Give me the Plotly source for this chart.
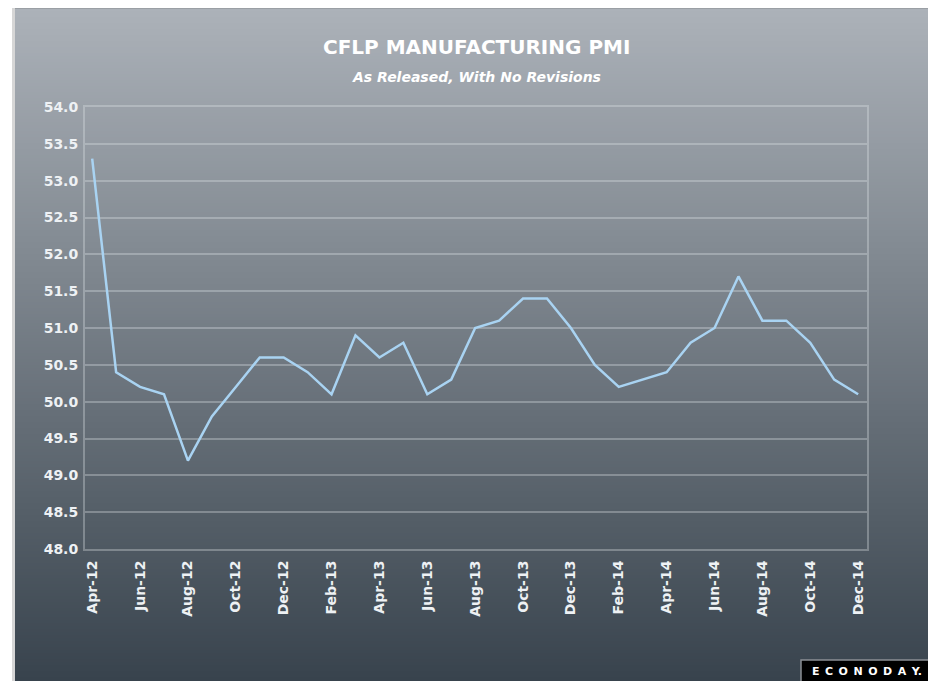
import plotly.graph_objects as go

months = ["Apr-12","May-12","Jun-12","Jul-12","Aug-12","Sep-12","Oct-12","Nov-12","Dec-12",
          "Jan-13","Feb-13","Mar-13","Apr-13","May-13","Jun-13","Jul-13","Aug-13","Sep-13",
          "Oct-13","Nov-13","Dec-13","Jan-14","Feb-14","Mar-14","Apr-14","May-14","Jun-14",
          "Jul-14","Aug-14","Sep-14","Oct-14","Nov-14","Dec-14"]
pmi = [53.3,50.4,50.2,50.1,49.2,49.8,50.2,50.6,50.6,
       50.4,50.1,50.9,50.6,50.8,50.1,50.3,51.0,51.1,
       51.4,51.4,51.0,50.5,50.2,50.3,50.4,50.8,51.0,
       51.7,51.1,51.1,50.8,50.3,50.1]
tick_labels = months[::2]

OFF = 8  # page body margin
W, H = 936 - OFF, 681 - OFF
L, R, T, B = 85 - OFF, 867 - OFF, 107 - OFF, 549 - OFF
pw, ph = R - L, B - T

def px2x(px):
    return (px - OFF - L) / pw

def py2y(py):
    return (B - (py - OFF)) / ph

shapes = []
top_c = (172, 178, 185)
bot_c = (56, 67, 77)
y0, y1 = 8, 681
step = 3
py = y0
while py < y1:
    t = (py + step / 2 - y0) / (y1 - y0)
    c = tuple(int(round(top_c[i] + (bot_c[i] - top_c[i]) * t)) for i in range(3))
    shapes.append(dict(type="rect", xref="paper", yref="paper",
                       x0=px2x(15), x1=px2x(934), y0=py2y(min(py + step + 0.5, y1)), y1=py2y(py),
                       fillcolor="rgb(%d,%d,%d)" % c, line=dict(width=0), layer="below"))
    py += step
shapes.append(dict(type="rect", xref="paper", yref="paper", x0=px2x(12), x1=px2x(15),
                   y0=py2y(681), y1=py2y(8), fillcolor="#d6d6d6", line=dict(width=0), layer="below"))
shapes.append(dict(type="rect", xref="paper", yref="paper", x0=px2x(15), x1=px2x(934),
                   y0=py2y(9), y1=py2y(8), fillcolor="#9a9fa4", line=dict(width=0), layer="below"))
shapes.append(dict(type="rect", xref="paper", yref="paper", x0=px2x(932), x1=px2x(934),
                   y0=py2y(681), y1=py2y(8), fillcolor="rgba(120,125,130,0.6)", line=dict(width=0), layer="below"))
# Econoday logo box
shapes.append(dict(type="rect", xref="paper", yref="paper", x0=px2x(801), x1=px2x(932),
                   y0=py2y(682), y1=py2y(660), fillcolor="black",
                   line=dict(color="#8a8f94", width=1.5), layer="above"))

fig = go.Figure()
fig.add_trace(go.Scatter(x=months, y=pmi, mode="lines",
                         line=dict(color="#a9d3f2", width=2.5), hoverinfo="x+y"))

grid_c = "rgba(225,230,235,0.33)"
tick_font = dict(family="DejaVu Sans", size=14, color="#eef1f4", weight="bold")

logo = "\u2002".join(list("ECONODAY")) + "."

fig.update_layout(
    width=W, height=H,
    margin=dict(l=L, r=W - R, t=T, b=H - B),
    paper_bgcolor="white",
    plot_bgcolor="rgba(0,0,0,0)",
    showlegend=False,
    shapes=shapes,
    xaxis=dict(type="category", categoryorder="array", categoryarray=months,
               range=[-0.3, 32.37], tickmode="array", tickvals=tick_labels, ticktext=tick_labels,
               tickangle=-90, tickfont=tick_font, showgrid=False, zeroline=False,
               showline=True, mirror=True, linecolor=grid_c, linewidth=2, ticks="", ticklabelstandoff=4),
    yaxis=dict(range=[48, 54], dtick=0.5, tick0=48, tickformat=".1f", tickfont=tick_font,
               showgrid=True, gridcolor=grid_c, gridwidth=2, zeroline=False,
               showline=True, mirror=True, linecolor=grid_c, linewidth=2, ticks="", ticklabelstandoff=2),
    annotations=[
        dict(text="<b>CFLP MANUFACTURING PMI</b>", xref="paper", yref="paper",
             x=0.5, y=py2y(47), xanchor="center", yanchor="middle", showarrow=False,
             font=dict(family="DejaVu Sans", size=20, color="white")),
        dict(text="<b><i>As Released, With No Revisions</i></b>", xref="paper", yref="paper",
             x=0.5, y=py2y(77), xanchor="center", yanchor="middle", showarrow=False,
             font=dict(family="DejaVu Sans", size=14, color="white")),
        dict(text=logo, xref="paper", yref="paper",
             x=px2x(866.5), y=py2y(671), xanchor="center", yanchor="middle", showarrow=False,
             font=dict(family="DejaVu Sans", size=11, color="white", weight="bold")),
    ],
)

fig.write_html("out.html")
